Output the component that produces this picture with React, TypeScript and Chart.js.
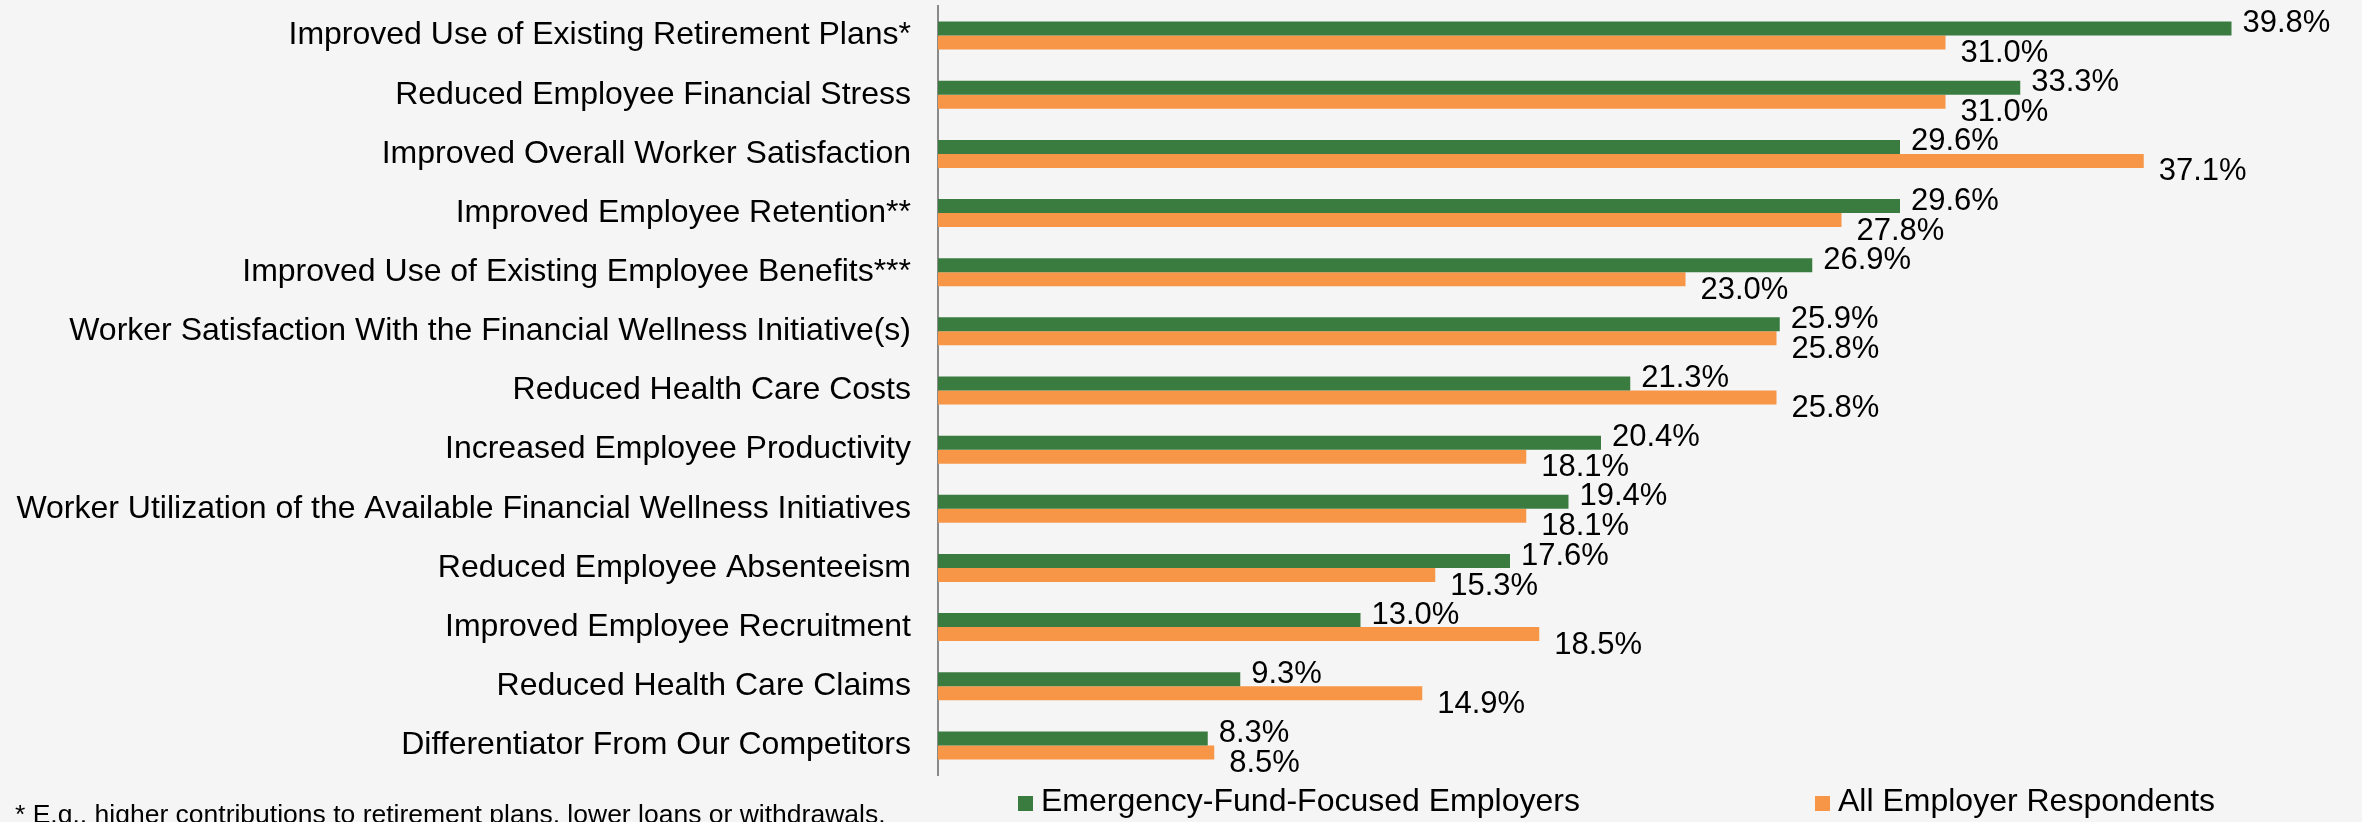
import React, { useEffect, useRef } from 'react';
import { Chart, registerables } from 'chart.js';

Chart.register(...registerables);

const categories = [
  'Improved Use of Existing Retirement Plans*',
  'Reduced Employee Financial Stress',
  'Improved Overall Worker Satisfaction',
  'Improved Employee Retention**',
  'Improved Use of Existing Employee Benefits***',
  'Worker Satisfaction With the Financial Wellness Initiative(s)',
  'Reduced Health Care Costs',
  'Increased Employee Productivity',
  'Worker Utilization of the Available Financial Wellness Initiatives',
  'Reduced Employee Absenteeism',
  'Improved Employee Recruitment',
  'Reduced Health Care Claims',
  'Differentiator From Our Competitors',
];

const emergencyFundFocused = [39.8, 33.3, 29.6, 29.6, 26.9, 25.9, 21.3, 20.4, 19.4, 17.6, 13.0, 9.3, 8.3];
const allEmployerRespondents = [31.0, 31.0, 37.1, 27.8, 23.0, 25.8, 25.8, 18.1, 18.1, 15.3, 18.5, 14.9, 8.5];

const seriesNames = ['Emergency-Fund-Focused Employers', 'All Employer Respondents'];
const seriesColors = ['#3a7c40', '#f79646'];
const footnote = '* E.g., higher contributions to retirement plans, lower loans or withdrawals.';

const FONT = '"Liberation Sans", Arial, Helvetica, sans-serif';
const W = 2362;
const H = 822;

const backgroundPlugin = {
  id: 'bg',
  beforeDraw(chart: any) {
    const { ctx } = chart;
    ctx.save();
    ctx.fillStyle = '#f5f5f5';
    ctx.fillRect(0, 0, chart.width, chart.height);
    ctx.restore();
  },
};

const valueLabelPlugin = {
  id: 'valueLabels',
  afterDatasetsDraw(chart: any) {
    const { ctx } = chart;
    ctx.save();
    ctx.font = `31px ${FONT}`;
    ctx.fillStyle = '#000';
    ctx.textAlign = 'left';
    ctx.textBaseline = 'middle';
    chart.data.datasets.forEach((ds: any, di: number) => {
      const meta = chart.getDatasetMeta(di);
      meta.data.forEach((bar: any, i: number) => {
        const v = ds.data[i];
        const dx = di === 0 ? 11 : 15;
        const dy = di === 0 ? -5 : 11;
        ctx.fillText(`${v.toFixed(1)}%`, bar.x + dx, bar.y + dy);
      });
    });
    ctx.restore();
  },
};

const legendFootnotePlugin = {
  id: 'legendFootnote',
  afterDraw(chart: any) {
    const { ctx, chartArea } = chart;
    ctx.save();
    const left = chartArea.left;
    const boxes = [left + 80, left + 877];
    ctx.font = `32px ${FONT}`;
    ctx.textBaseline = 'alphabetic';
    ctx.textAlign = 'left';
    seriesNames.forEach((name, i) => {
      ctx.fillStyle = seriesColors[i];
      ctx.fillRect(boxes[i], 796, 15, 15);
      ctx.fillStyle = '#000';
      ctx.fillText(name, boxes[i] + 23, 811);
    });
    ctx.font = `26.5px ${FONT}`;
    ctx.fillStyle = '#000';
    ctx.fillText(footnote, 15, 823);
    ctx.restore();
  },
};

export default function App() {
  const ref = useRef<HTMLCanvasElement | null>(null);

  useEffect(() => {
    document.body.style.margin = '0';
    document.body.style.background = '#f5f5f5';
    const canvas = ref.current;
    if (!canvas) return;
    const chart = new Chart(canvas, {
      type: 'bar',
      data: {
        labels: categories,
        datasets: [
          {
            label: seriesNames[0],
            data: emergencyFundFocused,
            backgroundColor: seriesColors[0],
            borderWidth: 0,
            categoryPercentage: 0.4734,
            barPercentage: 1.0,
          },
          {
            label: seriesNames[1],
            data: allEmployerRespondents,
            backgroundColor: seriesColors[1],
            borderWidth: 0,
            categoryPercentage: 0.4734,
            barPercentage: 1.0,
          },
        ],
      },
      options: {
        indexAxis: 'y',
        responsive: false,
        animation: false,
        devicePixelRatio: 1,
        layout: { padding: { top: 6, right: 124, bottom: 47, left: 0 } },
        scales: {
          x: { display: false, min: 0, max: 40 },
          y: {
            grid: { display: false, drawTicks: false },
            border: { display: true, color: '#8a8a8a', width: 2 },
            ticks: {
              padding: 27,
              color: '#000',
              font: { family: FONT, size: 32 },
              autoSkip: false,
            },
            afterFit: (s: any) => {
              s.width = 938;
              s.paddingTop = 0;
              s.paddingBottom = 0;
            },
          },
        },
        plugins: {
          legend: { display: false },
          tooltip: { enabled: false },
        },
      },
      plugins: [backgroundPlugin, valueLabelPlugin, legendFootnotePlugin],
    });
    return () => chart.destroy();
  }, []);

  return (
    <canvas
      ref={ref}
      width={W}
      height={H}
      style={{ display: 'block', width: `${W}px`, height: `${H}px` }}
    />
  );
}
